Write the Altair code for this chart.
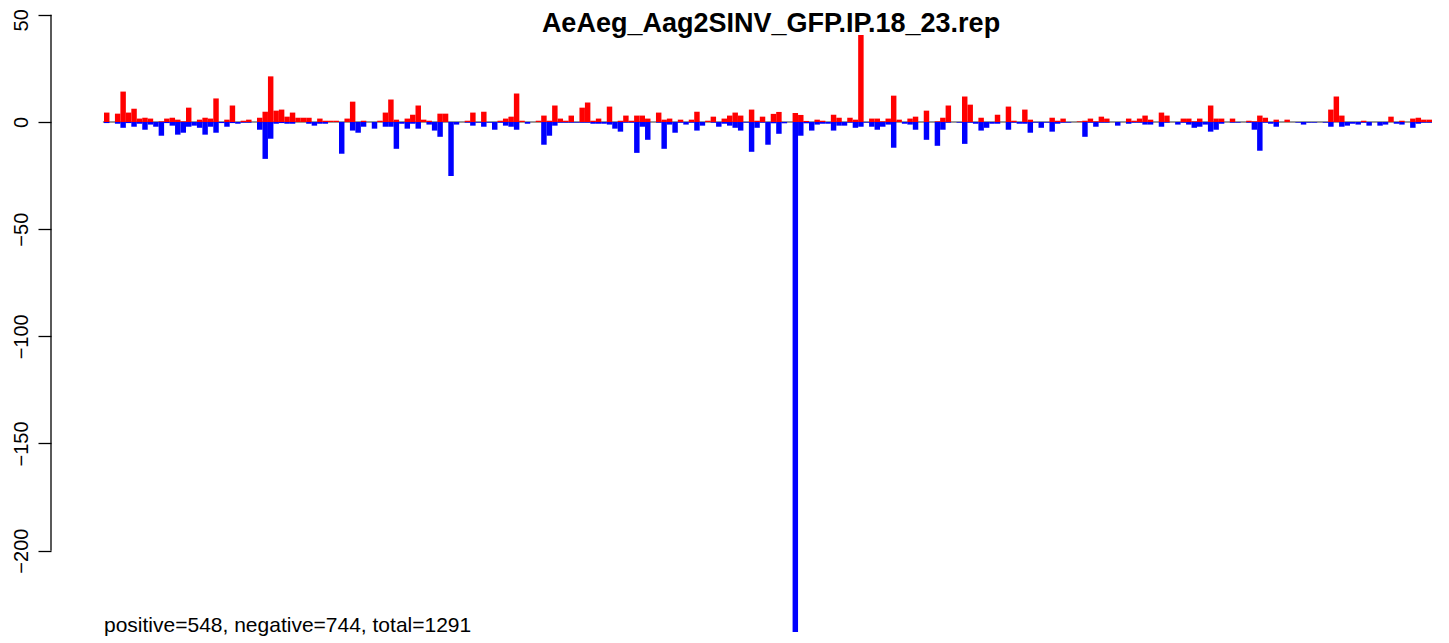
import altair as alt
import pandas as pd

title_text = "AeAeg_Aag2SINV_GFP.IP.18_23.rep"
note_text = "positive=548, negative=744, total=1291"
y_ticks = [-200, -150, -100, -50, 0, 50]

# red (upward) bar heights, one per position bin
positive = [
    4.4, 0, 3.9, 14.2, 4.4, 6.2, 1.6, 2.0, 1.6, 0,
    0.3, 1.6, 2.0, 1.1, 0.3, 6.7, 0, 1.1, 2.0, 1.6,
    11.0, 0, 1.1, 7.7, 0, 0.6, 1.1, 0, 2.0, 4.8,
    21.3, 5.3, 5.8, 2.5, 4.4, 2.0, 2.0, 2.0, 0, 1.6,
    0.6, 0.6, 0.6, 0, 1.6, 9.5, 0, 0.6, 0, 0,
    0.6, 4.4, 10.5, 1.1, 0, 1.6, 3.4, 7.7, 1.1, 0.6,
    0, 3.9, 3.9, 0, 0, 0, 0.6, 4.4, 0, 4.8,
    0, 0, 0.6, 1.6, 2.5, 13.3, 0.6, 0, 0, 0.6,
    3.0, 0.6, 7.7, 1.6, 0.6, 3.0, 0, 6.7, 9.1, 0.6,
    1.6, 0, 7.2, 0, 0.6, 3.0, 0.6, 3.0, 3.0, 1.6,
    0, 4.4, 1.1, 1.6, 0, 1.1, 0, 1.1, 4.8, 0,
    0.6, 2.5, 0, 1.6, 3.0, 4.4, 3.0, 0, 5.8, 0.6,
    2.5, 0, 3.8, 4.7, 0, 0, 4.2, 3.3, 0.5, 0,
    1.1, 0.6, 0, 3.4, 2.0, 0, 2.0, 1.1, 40.6, 0,
    1.6, 1.6, 0.3, 1.6, 12.3, 1.1, 0, 1.6, 2.5, 0,
    5.3, 0, 0.3, 2.0, 7.7, 0, 0, 11.9, 8.1, 0,
    2.0, 0, 0, 3.4, 0, 7.2, 0.6, 0, 5.8, 1.1,
    0, 0, 0, 2.0, 0.6, 1.6, 0, 0, 0.3, 0.6,
    1.6, 0.3, 2.5, 1.6, 0, 0, 0, 1.6, 0.6, 1.6,
    3.0, 1.1, 0, 4.4, 3.0, 0, 0, 1.6, 1.6, 0.3,
    1.6, 0, 7.7, 1.6, 1.6, 0, 1.6, 0, 0, 0.6,
    0.3, 3.0, 2.0, 0, 1.1, 0, 1.1, 0, 0, 0,
    0, 0, 0, 0, 5.8, 11.9, 3.0, 0, 0, 0,
    0.6, 0, 0, 0, 0, 2.5, 0, 0.6, 0, 1.6,
    2.0, 1.1, 1.1,
]

# blue (downward) bar depths, one per position bin
negative = [
    0.5, 0, 0.8, 2.7, 0.5, 2.2, 0.8, 3.6, 1.2, 2.2,
    6.4, 0.5, 1.7, 5.9, 5.0, 2.2, 1.7, 2.7, 5.9, 2.2,
    5.0, 0.5, 2.2, 0.5, 0.8, 0.3, 0.3, 0, 3.6, 17.2,
    7.8, 0.8, 0.5, 0.8, 0.8, 0, 0, 0.8, 1.7, 0.8,
    0.8, 0, 0, 14.8, 0, 4.0, 5.0, 2.2, 0, 3.1,
    0, 2.2, 2.2, 12.5, 0.8, 3.1, 0.8, 3.1, 0, 1.2,
    4.0, 6.9, 0, 25.2, 1.2, 0, 0.3, 1.7, 0.3, 2.2,
    0.3, 3.6, 0.3, 1.7, 2.2, 3.6, 0, 0.8, 0, 0,
    10.6, 6.4, 1.7, 0.3, 0.3, 0.3, 0.3, 0.3, 0.3, 0.8,
    0.8, 0.8, 1.2, 3.1, 4.5, 0.3, 0.3, 14.4, 2.2, 8.3,
    0, 0.3, 12.5, 1.2, 5.0, 0.3, 1.2, 0.3, 4.0, 1.7,
    0, 0.3, 2.2, 0.8, 1.7, 2.7, 4.0, 0.3, 13.9, 2.7,
    0.3, 10.6, 0.6, 5.5, 0.6, 0, 238.0, 6.4, 0.6, 4.0,
    1.2, 0.8, 0.8, 4.0, 1.7, 1.7, 0.3, 2.7, 2.2, 0.3,
    2.2, 3.6, 2.2, 1.2, 12.0, 0, 0.8, 1.2, 3.6, 0,
    8.3, 0, 11.1, 3.6, 0.3, 0, 0.3, 10.2, 0.3, 0.8,
    4.0, 2.7, 0.8, 0.8, 0, 3.6, 0.3, 0.8, 0.8, 5.0,
    0.3, 2.7, 0.3, 4.5, 0.8, 0.3, 0.3, 0, 0, 6.9,
    0.3, 2.2, 0.3, 0.3, 0, 1.7, 0, 0.8, 0.3, 0.3,
    1.2, 1.2, 0, 2.2, 0.3, 0, 1.2, 0.3, 1.2, 2.7,
    2.2, 1.2, 4.5, 3.6, 0.8, 0, 0.3, 0.3, 0, 0.3,
    3.6, 13.4, 0.3, 0.8, 2.2, 0, 0, 0, 0.3, 1.2,
    0.3, 0.3, 0, 0.3, 2.2, 0, 2.2, 1.7, 0.8, 1.2,
    0.3, 1.7, 0, 1.7, 1.2, 0, 0.8, 1.2, 0, 2.7,
    0.8, 0.3, 0.3,
]

n = len(positive)
assert len(negative) == n

rows = []
for i in range(n):
    if positive[i] > 0:
        rows.append({"slot": i, "slot_end": i + 1, "value": positive[i], "base": 0, "sign": "positive"})
    if negative[i] > 0:
        rows.append({"slot": i, "slot_end": i + 1, "value": -negative[i], "base": 0, "sign": "negative"})
bars_df = pd.DataFrame(rows)

FONT = "Liberation Sans"
xscale = alt.Scale(domain=[-9.698, 244.65], nice=False, zero=False)
yscale = alt.Scale(domain=[-243.1, 53.2], nice=False, zero=False)

yaxis = alt.Axis(
    values=y_ticks, domain=False, grid=False, ticks=True, tickSize=13,
    tickColor="black", tickWidth=1.3, labelAngle=270, labelAlign="center",
    labelBaseline="alphabetic", labelPadding=11, labelFont=FONT,
    labelFontSize=20, labelColor="black", labelOverlap=False, labelBound=False,
    labelFlush=False, title=None,
    labelOffset={"condition": {"test": "datum.value == 50", "value": 5}, "value": 0},
)

zero_df = pd.DataFrame({"x0": [-0.2], "x1": [n], "y0": [0]})
zero_line = alt.Chart(zero_df).mark_rule(color="#777777", strokeWidth=1.3).encode(
    x=alt.X("x0:Q", scale=xscale, axis=None),
    x2="x1:Q",
    y=alt.Y("y0:Q", scale=yscale, axis=yaxis),
)

bars = alt.Chart(bars_df).mark_bar(stroke=None).encode(
    x=alt.X("slot:Q", scale=xscale, axis=None),
    x2="slot_end:Q",
    y=alt.Y("value:Q", scale=yscale, axis=yaxis),
    y2="base:Q",
    color=alt.Color("sign:N", scale=alt.Scale(domain=["positive", "negative"],
                                              range=["#ff0000", "#0000ff"]), legend=None),
)

axis_df = pd.DataFrame({"lo": [min(y_ticks)], "hi": [max(y_ticks)]})
axis_line = alt.Chart(axis_df).mark_rule(color="black", strokeWidth=1.3).encode(
    x=alt.value(0),
    y=alt.Y("lo:Q", scale=yscale, axis=yaxis),
    y2="hi:Q",
)

note = alt.Chart(pd.DataFrame({"t": [note_text]})).mark_text(
    align="left", baseline="alphabetic", font=FONT, fontSize=21, color="black"
).encode(x=alt.value(53), y=alt.value(624), text="t:N")

title = alt.Chart(pd.DataFrame({"t": [title_text]})).mark_text(
    align="center", baseline="alphabetic", font=FONT, fontSize=27,
    fontWeight="bold", color="black"
).encode(x=alt.value(720), y=alt.value(24), text="t:N")

chart = alt.layer(zero_line, bars, axis_line, note, title).properties(
    width=1390, height=635,
    padding={"left": 43, "top": 0, "right": 0, "bottom": 0},
    autosize=alt.AutoSizeParams(type="none"),
    background="white",
).configure_view(stroke=None)

chart.save("out.html", embed_options={"renderer": "svg", "actions": False})
